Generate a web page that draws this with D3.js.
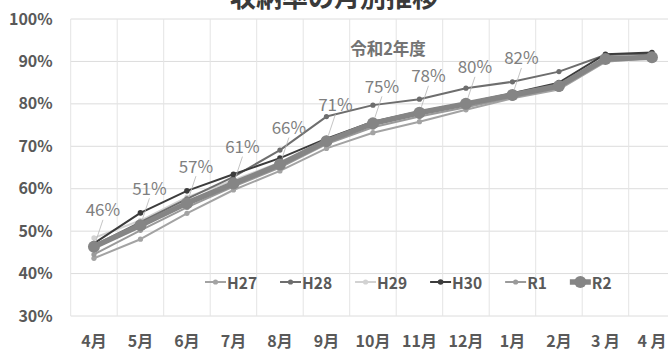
<!DOCTYPE html>
<html><head><meta charset="utf-8">
<script src="https://cdn.jsdelivr.net/npm/d3@7"></script>
<style>
body{margin:0;background:#fff;}
svg{display:block;font-family:"Noto Sans CJK JP","Noto Sans",sans-serif;}
</style></head>
<body><svg id="c" width="668" height="351"></svg>
<script>
const months = ["4月","5月","6月","7月","8月","9月","10月","11月","12月","1月","2月","3 月","4 月"];
const yTicks = [0.3,0.4,0.5,0.6,0.7,0.8,0.9,1.0];
const seriesNames = ["H27","H28","H29","H30","R1","R2"];
const H27 = [0.436,0.481,0.542,0.597,0.642,0.695,0.732,0.758,0.786,0.813,0.834,0.899,0.908];
const H28 = [0.466,0.521,0.576,0.628,0.691,0.770,0.797,0.811,0.837,0.852,0.876,0.915,0.918];
const H29 = [0.484,0.525,0.580,0.620,0.662,0.712,0.755,0.779,0.800,0.822,0.842,0.905,0.910];
const H30 = [0.471,0.543,0.595,0.634,0.672,0.718,0.758,0.782,0.802,0.825,0.850,0.917,0.921];
const R1  = [0.445,0.502,0.556,0.605,0.650,0.705,0.745,0.770,0.792,0.815,0.838,0.902,0.909];
const R2  = [0.463,0.514,0.566,0.612,0.657,0.712,0.754,0.779,0.800,0.821,0.842,0.906,0.910];
const r2Labels = ["46%","51%","57%","61%","66%","71%","75%","78%","80%","82%"];
const chartTitle = "収納率の月別推移";
const subTitle = "令和2年度";

const seriesData = [H27,H28,H29,H30,R1,R2];
const colors = ["#a3a3a3","#6e6e6e","#d2d2d2","#3c3c3c","#9a9a9a","#858585"];
const widths = [2,2,2,2,2,5.5];
const radii = [2.6,2.6,2.6,2.8,2.6,6];

const svg = d3.select("#c");
const left = 70.7, step = 46.5;
const x = d3.scaleBand().domain(d3.range(months.length)).range([left, left + step*months.length]).paddingInner(0).paddingOuter(0);
const y = d3.scaleLinear().domain([0.3,1.0]).range([316,19]);
const cx = i => x(i) + x.bandwidth()/2;

// grid
const grid = svg.append("g");
grid.selectAll("line.h").data(yTicks).join("line")
  .attr("x1", left).attr("x2", x.range()[1])
  .attr("y1", d=>y(d)).attr("y2", d=>y(d))
  .attr("stroke","#dcdcdc").attr("stroke-width",1);
const bounds = d3.range(months.length+1).map(i => i < months.length ? x(i) : x.range()[1]);
grid.selectAll("line.v").data(bounds).join("line")
  .attr("x1", d=>d).attr("x2", d=>d)
  .attr("y1", y(1.0)).attr("y2", y(0.3))
  .attr("stroke","#e4e4e4").attr("stroke-width",1);

// axes
const ya = svg.append("g").attr("transform",`translate(${left},0)`)
  .call(d3.axisLeft(y).tickValues(yTicks).tickFormat(d3.format(".0%")).tickSize(0).tickPadding(18));
ya.select(".domain").remove();
ya.selectAll("text").attr("font-size",16).attr("font-weight","bold").attr("fill","#595959")
  .attr("font-family","'Noto Sans CJK JP',sans-serif");

const xa = svg.append("g").attr("transform",`translate(0,${y(0.3)})`)
  .call(d3.axisBottom(x).tickFormat(i=>months[i]).tickSize(0).tickPadding(20));
xa.select(".domain").remove();
xa.selectAll("text").attr("font-size",16).attr("font-weight","bold").attr("fill","#595959")
  .attr("font-family","'Noto Sans CJK JP',sans-serif");

// lines
const line = d3.line().x((d,i)=>cx(i)).y(d=>y(d));
const drawOrder = [0,2,4,1,3,5];
drawOrder.forEach(k=>{
  const g = svg.append("g");
  g.append("path").datum(seriesData[k]).attr("d",line)
    .attr("fill","none").attr("stroke",colors[k]).attr("stroke-width",widths[k]).attr("stroke-linejoin","round");
  g.selectAll("circle").data(seriesData[k]).join("circle")
    .attr("cx",(d,i)=>cx(i)).attr("cy",d=>y(d)).attr("r",radii[k]).attr("fill",colors[k]);
});

// data labels for R2
const lab = svg.append("g");
r2Labels.forEach((t,i)=>{
  const px = cx(i), py = y(R2[i]);
  const lx = px + 9, ly = py - 38;
  lab.append("line").attr("x1",lx).attr("y1",ly+11).attr("x2",px+2).attr("y2",py-6)
    .attr("stroke","#b5b5b5").attr("stroke-width",0.8);
  lab.append("text").attr("x",lx).attr("y",ly).attr("text-anchor","middle").attr("dominant-baseline","central")
    .attr("font-size",17).attr("fill","#7f7f7f").text(t);
});

// subtitle
svg.append("text").attr("x",388).attr("y",48).attr("text-anchor","middle").attr("dominant-baseline","central")
  .attr("font-size",16.5).attr("font-weight","bold").attr("fill","#737373").text(subTitle);

// title (cut off at top, as in the reference)
svg.append("text").attr("x",334).attr("y",-5).attr("text-anchor","middle").attr("dominant-baseline","central")
  .attr("font-size",26).attr("font-weight","bold").attr("fill","#3a3a3a").text(chartTitle);

// legend
const leg = svg.append("g").attr("transform","translate(205,282)");
let lxPos = 0;
seriesNames.forEach((n,k)=>{
  const g = leg.append("g").attr("transform",`translate(${lxPos},0)`);
  g.append("line").attr("x1",0).attr("x2",21).attr("y1",0).attr("y2",0)
    .attr("stroke",colors[k]).attr("stroke-width",widths[k]);
  g.append("circle").attr("cx",10.5).attr("cy",0).attr("r",radii[k]).attr("fill",colors[k]);
  const t = g.append("text").attr("x",22).attr("y",0).attr("dominant-baseline","central")
    .attr("font-size",15.5).attr("font-weight","bold").attr("fill","#595959").text(n);
  lxPos += 22 + t.node().getComputedTextLength() + 23;
});
</script></body></html>
